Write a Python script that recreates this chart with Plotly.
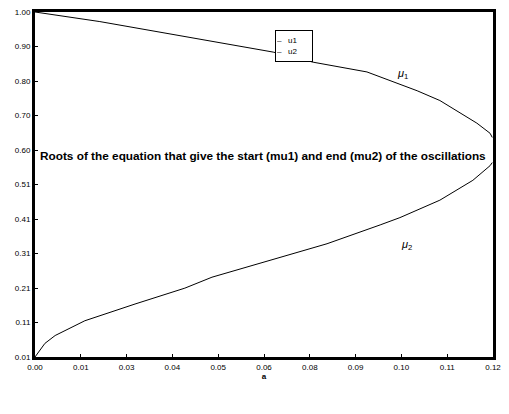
import plotly.graph_objects as go

# data
a_mu1 = [0.0, 0.0177, 0.0423, 0.0650, 0.0759, 0.0906, 0.1043, 0.1105, 0.1206, 0.1242, 0.1248]
mu1 = [1.0, 0.9725, 0.927, 0.885, 0.856, 0.828, 0.774, 0.746, 0.681, 0.652, 0.640]
a_mu2 = [0.0, 0.0027, 0.0055, 0.0136, 0.0273, 0.0409, 0.0483, 0.0633, 0.0797, 0.0942, 0.0996, 0.1105, 0.1195, 0.1242, 0.1248]
mu2 = [0.01, 0.049, 0.0716, 0.114, 0.162, 0.2076, 0.239, 0.284, 0.335, 0.389, 0.41, 0.46, 0.517, 0.559, 0.568]

x_tickvals = [0, 0.0125, 0.025, 0.0375, 0.05, 0.0625, 0.075, 0.0875, 0.1, 0.1125, 0.125]
x_ticktext = ["0.00", "0.01", "0.03", "0.04", "0.05", "0.06", "0.08", "0.09", "0.10", "0.11", "0.12"]
y_tickvals = [0.01, 0.109, 0.208, 0.307, 0.406, 0.505, 0.604, 0.703, 0.802, 0.901, 1.0]
y_ticktext = ["0.01", "0.11", "0.21", "0.31", "0.41", "0.51", "0.60", "0.70", "0.80", "0.90", "1.00"]

series_names = ["u1", "u2"]
title_text = "Roots of the equation that give the start (mu1) and end (mu2) of the oscillations"

fig = go.Figure()
fig.add_trace(go.Scatter(x=a_mu1, y=mu1, mode="lines", name=series_names[0],
                         line=dict(color="black", width=1)))
fig.add_trace(go.Scatter(x=a_mu2, y=mu2, mode="lines", name=series_names[1],
                         line=dict(color="black", width=1)))

tick_font = dict(family="Liberation Sans", size=8, color="black")
axis_common = dict(showline=True, linecolor="black", linewidth=3, mirror=True,
                   showgrid=False, zeroline=False, ticks="inside", ticklen=3,
                   tickcolor="black", tickwidth=1, automargin=False,
                   ticklabeloverflow="allow", tickfont=tick_font)

fig.update_xaxes(range=[0, 0.125], tickvals=x_tickvals, ticktext=x_ticktext,
                 title=dict(text="<b>a</b>", font=dict(family="Liberation Sans", size=8, color="black"), standoff=2),
                 **axis_common)
fig.update_yaxes(range=[0.01, 1.0], tickvals=y_tickvals, ticktext=y_ticktext, **axis_common)

fig.add_annotation(x=0.0622, y=0.587, xref="x", yref="y", text="<b>" + title_text + "</b>",
                   showarrow=False, font=dict(family="Liberation Sans", size=11.8, color="black"))
fig.add_annotation(x=0.1004, y=0.822, xref="x", yref="y", text="<i>μ</i><sub>1</sub>",
                   showarrow=False, font=dict(family="Liberation Sans", size=11, color="black"))
fig.add_annotation(x=0.1015, y=0.332, xref="x", yref="y", text="<i>μ</i><sub>2</sub>",
                   showarrow=False, font=dict(family="Liberation Sans", size=11, color="black"))
# legend box (drawn as bordered text, like the reference's small legend)
fig.add_annotation(x=0.0707, y=0.902, xref="x", yref="y",
                   text="–   " + series_names[0] + "<br>–   " + series_names[1],
                   showarrow=False, align="left", width=34, height=28,
                   bgcolor="white", bordercolor="black", borderwidth=1, borderpad=1,
                   font=dict(family="Liberation Sans", size=8, color="black"))

# figure sized to fit inside the page's default 8px body margin without scrollbars
fig.update_layout(
    width=493, height=398,
    margin=dict(l=27, r=8, t=4, b=49),
    paper_bgcolor="white", plot_bgcolor="white",
    showlegend=False,
)

fig.write_html("out.html")
